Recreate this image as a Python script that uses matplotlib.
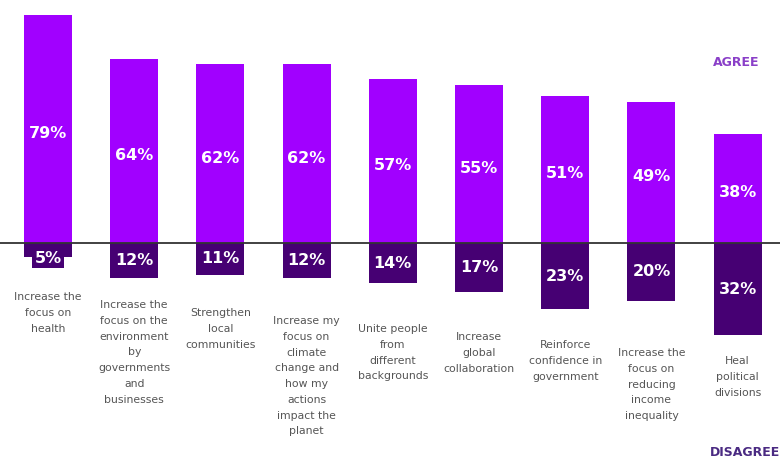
import matplotlib
matplotlib.use("Agg")
import matplotlib.pyplot as plt
import numpy as np

categories = [
    "Increase the\nfocus on\nhealth",
    "Increase the\nfocus on the\nenvironment\nby\ngovernments\nand\nbusinesses",
    "Strengthen\nlocal\ncommunities",
    "Increase my\nfocus on\nclimate\nchange and\nhow my\nactions\nimpact the\nplanet",
    "Unite people\nfrom\ndifferent\nbackgrounds",
    "Increase\nglobal\ncollaboration",
    "Reinforce\nconfidence in\ngovernment",
    "Increase the\nfocus on\nreducing\nincome\ninequality",
    "Heal\npolitical\ndivisions",
]
agree = [79, 64, 62, 62, 57, 55, 51, 49, 38]
disagree = [5, 12, 11, 12, 14, 17, 23, 20, 32]

AGREE_C = "#A100FF"
DIS_C = "#460073"

W, H = 780, 459
fig = plt.figure(figsize=(W / 100, H / 100), dpi=100)
ax = fig.add_axes([0, 0, 1, 1])

spacing = 86.2       # px between bar centres
x0 = 48              # px of first bar centre
base_px = 243        # px of baseline from top
scale = 2.88         # px per percent

ax.set_xlim(-x0 / spacing, (W - x0) / spacing)
ax.set_ylim(-(H - base_px) / scale, base_px / scale)
ax.axis("off")

x = np.arange(len(categories))
bw = 48 / spacing
ax.bar(x, agree, width=bw, color=AGREE_C, zorder=2)
ax.bar(x, [-d for d in disagree], width=bw, color=DIS_C, zorder=2)
ax.axhline(0, color="#333333", lw=1.3, zorder=3)

for i, (a, d) in enumerate(zip(agree, disagree)):
    ax.text(i, a / 2 - 1.5, f"{a}%", ha="center", va="center", color="white",
            fontsize=11.5, fontweight="bold", zorder=4)
    if d < 8:
        ax.text(i, -5.3, f"{d}%", ha="center", va="center", color="white",
                fontsize=11.5, fontweight="bold", zorder=4,
                bbox=dict(boxstyle="square,pad=0.15", fc=DIS_C, ec="none"))
    else:
        ax.text(i, -d / 2, f"{d}%", ha="center", va="center", color="white",
                fontsize=11.5, fontweight="bold", zorder=4)
    top_px = 292 + 8 * i
    ax.text(i, (base_px - top_px) / scale, categories[i], ha="center", va="top",
            color="#555555", fontsize=7.8, linespacing=1.72, zorder=4)

ax.text((736 - x0) / spacing, (base_px - 62) / scale, "AGREE", ha="center",
        va="center", color="#8A3FC8", fontsize=9, fontweight="bold")
ax.text((710 - x0) / spacing, (base_px - 452) / scale, "DISAGREE", ha="left",
        va="center", color="#4A2A82", fontsize=9, fontweight="bold")

fig.savefig("out.png", dpi=100, facecolor="white")
